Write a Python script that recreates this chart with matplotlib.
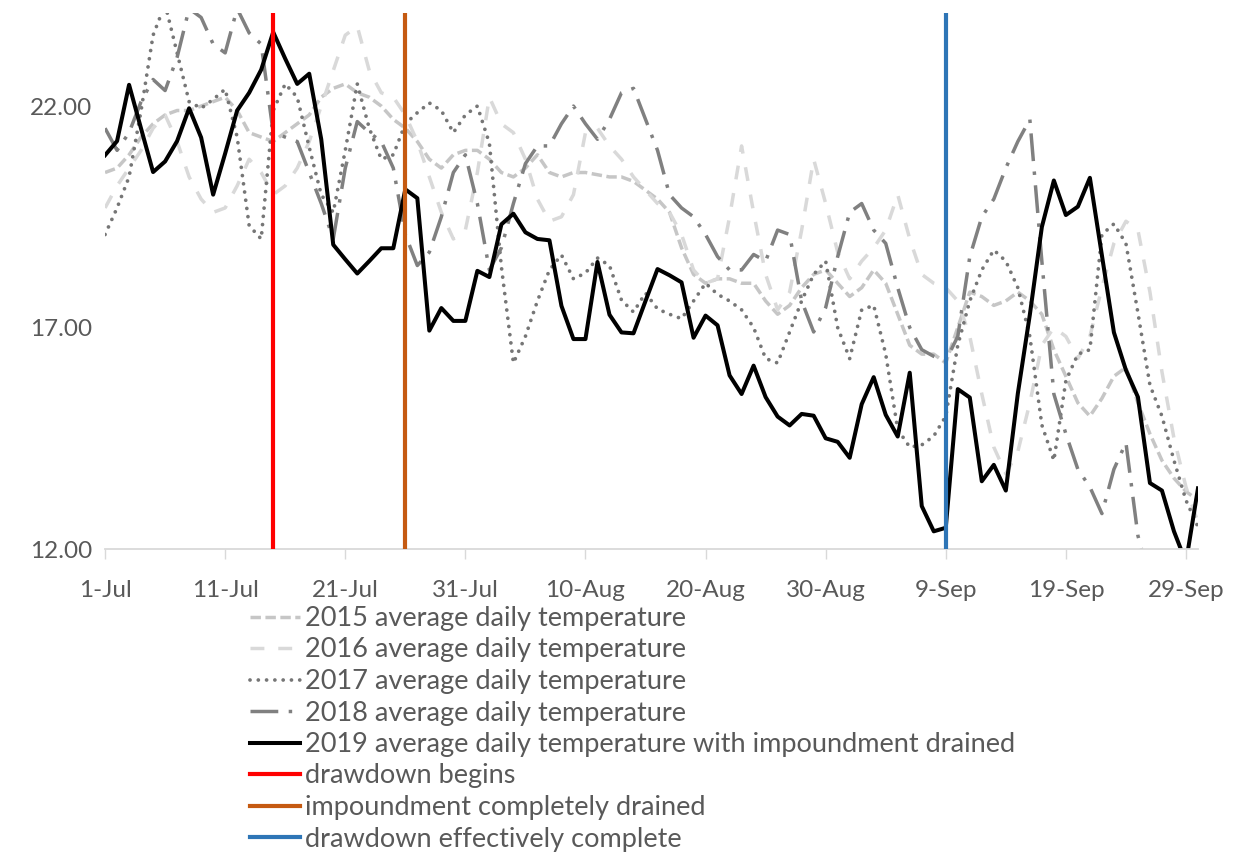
import matplotlib
matplotlib.use('Agg')
import matplotlib.pyplot as plt

plt.rcParams['font.family'] = ['Lato', 'DejaVu Sans']

# Day index 0 = 1 July, 91 = 30 September
days = list(range(92))
tick_days = [0, 10, 20, 30, 40, 50, 60, 70, 80, 90]
tick_labels = ['1-Jul', '11-Jul', '21-Jul', '31-Jul', '10-Aug', '20-Aug',
               '30-Aug', '9-Sep', '19-Sep', '29-Sep']

temp_2015 = [20.5, 20.6, 20.9, 21.3, 21.6, 21.8, 21.9, 21.9, 22.0, 22.1,
             22.2, 21.9, 21.4, 21.3, 21.2, 21.4, 21.6, 21.8, 22.2, 22.4,
             22.5, 22.3, 22.2, 22.0, 21.7, 21.5, 21.2, 20.8, 20.6, 20.9,
             21.0, 21.0, 20.8, 20.5, 20.4, 20.6, 20.9, 20.5, 20.4, 20.5,
             20.5, 20.45, 20.4, 20.4, 20.3, 20.1, 19.9, 19.6, 18.8, 18.2,
             18.0, 18.1, 18.1, 18.0, 18.0, 17.6, 17.3, 17.5, 17.9, 18.2,
             18.3, 18.0, 17.7, 17.9, 18.3, 18.0, 17.3, 16.6, 16.4, 16.4,
             16.2, 17.0, 17.8, 17.7, 17.5, 17.6, 17.8, 17.6, 17.3, 16.5,
             15.9, 15.3, 15.0, 15.4, 15.9, 16.1, 15.3, 14.6, 14.0, 13.6,
             13.3, 13.1]

temp_2016 = [19.7, 20.2, 20.6, 21.0, 21.5, 21.8, 21.2, 20.4, 19.9, 19.6,
             19.7, 20.2, 20.8, 20.5, 20.0, 20.2, 20.6, 21.2, 22.0, 22.8,
             23.6, 23.8, 22.8, 22.3, 22.2, 21.8, 21.2, 20.4, 19.6, 19.0,
             19.2, 20.5, 22.2, 21.6, 21.4, 20.8, 19.9, 19.4, 19.5, 20.0,
             21.4, 21.5, 21.1, 20.8, 20.4, 20.1, 19.8, 19.6, 19.1, 18.3,
             18.0, 18.1, 19.5, 21.1, 19.6, 18.2, 17.4, 17.8, 19.2, 20.8,
             19.8, 18.7, 18.1, 18.5, 18.8, 19.2, 20.0, 19.0, 18.2, 18.0,
             17.9, 17.6, 16.8, 15.5, 14.3, 13.7, 14.2, 15.3, 16.6, 17.0,
             16.8, 16.3, 16.8, 17.9, 18.9, 19.4, 19.2, 17.8, 16.0, 14.5,
             13.4, 12.6]

temp_2017 = [19.1, 19.7, 20.4, 21.9, 23.6, 24.3, 23.2, 22.1, 21.95, 22.15,
             22.38, 21.3, 19.3, 19.0, 21.9, 22.5, 22.2, 21.07, 20.0, 19.6,
             21.0, 22.5, 21.5, 20.8, 20.9, 21.6, 21.85, 22.07, 21.9, 21.4,
             21.8, 22.0, 21.16, 18.37, 16.2, 16.8, 17.6, 18.3, 18.64, 18.1,
             18.23, 18.57, 18.4, 17.62, 17.35, 17.78, 17.42, 17.3, 17.2, 17.6,
             18.0, 17.75, 17.6, 17.4, 17.0, 16.3, 16.2, 16.9, 17.6, 18.2,
             18.5, 17.0, 16.3, 17.4, 17.5, 16.4, 14.7, 14.3, 14.35, 14.55,
             15.0, 16.6, 17.6, 18.3, 18.75, 18.5, 17.9, 16.8, 14.8, 14.0,
             15.8, 16.4, 16.5, 19.1, 19.34, 18.9, 17.33, 15.7, 15.0, 14.0,
             13.1, 12.5]

temp_2018 = [21.5, 21.0, 21.4, 22.1, 22.6, 22.35, 23.1, 24.2, 24.0, 23.4,
             23.2, 24.2, 23.65, 23.4, 21.4, 21.3, 21.2, 20.5, 19.8, 19.0,
             20.6, 21.65, 21.4, 21.2, 20.6, 19.1, 18.4, 18.7, 19.5, 20.5,
             20.9, 19.8, 18.3, 18.8, 19.8, 20.7, 21.1, 21.1, 21.6, 22.0,
             21.6, 21.25, 21.7, 22.3, 22.4, 21.7, 21.0, 20.0, 19.7, 19.5,
             19.1, 18.6, 18.3, 18.3, 18.65, 18.5, 19.2, 19.1, 17.6, 16.9,
             17.45, 18.6, 19.6, 19.8, 19.2, 18.9, 17.9, 17.0, 16.5, 16.35,
             16.25, 16.8, 18.6, 19.5, 19.9, 20.6, 21.2, 21.7, 18.5, 15.5,
             14.6, 13.8, 13.4, 12.8, 13.8, 14.4, 12.3, 11.3, 11.0, 11.0,
             11.0, 11.0]

temp_2019 = [20.89, 21.21, 22.48, 21.49, 20.51, 20.75, 21.21, 21.95, 21.29, 20.0,
             20.93, 21.9, 22.3, 22.82, 23.67, 23.07, 22.5, 22.73, 21.25, 18.87,
             18.54, 18.22, 18.5, 18.79, 18.79, 20.12, 19.92, 16.93, 17.44, 17.15,
             17.15, 18.28, 18.14, 19.33, 19.57, 19.15, 19.0, 18.97, 17.49, 16.74,
             16.74, 18.48, 17.29, 16.89, 16.87, 17.6, 18.32, 18.18, 18.02, 16.77,
             17.27, 17.05, 15.92, 15.5, 16.14, 15.43, 14.99, 14.79, 15.05, 15.01,
             14.5, 14.42, 14.06, 15.27, 15.88, 15.03, 14.54, 15.98, 12.97, 12.4,
             12.48, 15.61, 15.42, 13.53, 13.9, 13.32, 15.51, 17.29, 19.27, 20.32,
             19.54, 19.73, 20.38, 18.63, 16.89, 16.04, 15.43, 13.49, 13.32, 12.4,
             11.7, 13.37]

# Key dates of the drawdown (day index)
event_days = [14, 25, 70]
event_labels = ['drawdown begins', 'impoundment completely drained',
                'drawdown effectively complete']
event_colors = ['#FF0000', '#C55A11', '#2E75B6']

text_color = '#595959'
axis_color = '#D9D9D9'

fig = plt.figure(figsize=(12.33, 8.58), dpi=100)
ax = fig.add_axes([0.0852, 0.3601, 0.8864, 0.6247])

ax.plot(days, temp_2015, color='#C6C6C6', lw=2.5, dashes=(3, 1.3),
        label='2015 average daily temperature')
ax.plot(days, temp_2016, color='#D9D9D9', lw=2.5, dashes=(4, 4),
        label='2016 average daily temperature')
ax.plot(days, temp_2017, color='#767676', lw=2.7, dashes=(0.01, 2.2),
        dash_capstyle='round', label='2017 average daily temperature')
ax.plot(days, temp_2018, color='#808080', lw=2.5, dashes=(8, 3, 1, 3),
        label='2018 average daily temperature')
ax.plot(days, temp_2019, color='black', lw=2.9,
        label='2019 average daily temperature with impoundment drained')

for d, lab, c in zip(event_days, event_labels, event_colors):
    ax.axvline(d, color=c, lw=3.0, label=lab, zorder=5)

ax.set_xlim(0, 91)
ax.set_ylim(12, 24.1)

ax.set_yticks([12, 17, 22])
ax.set_yticklabels(['%.2f' % v for v in [12, 17, 22]])
ax.set_xticks(tick_days)
ax.set_xticklabels(tick_labels)

for side in ['left', 'right', 'top']:
    ax.spines[side].set_visible(False)
ax.spines['bottom'].set_color(axis_color)
ax.spines['bottom'].set_linewidth(1.3)
ax.tick_params(axis='x', colors=text_color, labelsize=17.5, length=7,
               width=1, color=axis_color, pad=15)
ax.tick_params(axis='y', colors=text_color, labelsize=17.5, length=0, pad=9)

ax.legend(loc='upper left', bbox_to_anchor=(250 / 1233, 1 - 606 / 858),
          bbox_transform=fig.transFigure, frameon=False, fontsize=19.5,
          labelcolor=text_color, handlelength=1.85, handletextpad=0.18,
          labelspacing=0.24, borderpad=0, borderaxespad=0)

fig.savefig('out.png', dpi=100)
